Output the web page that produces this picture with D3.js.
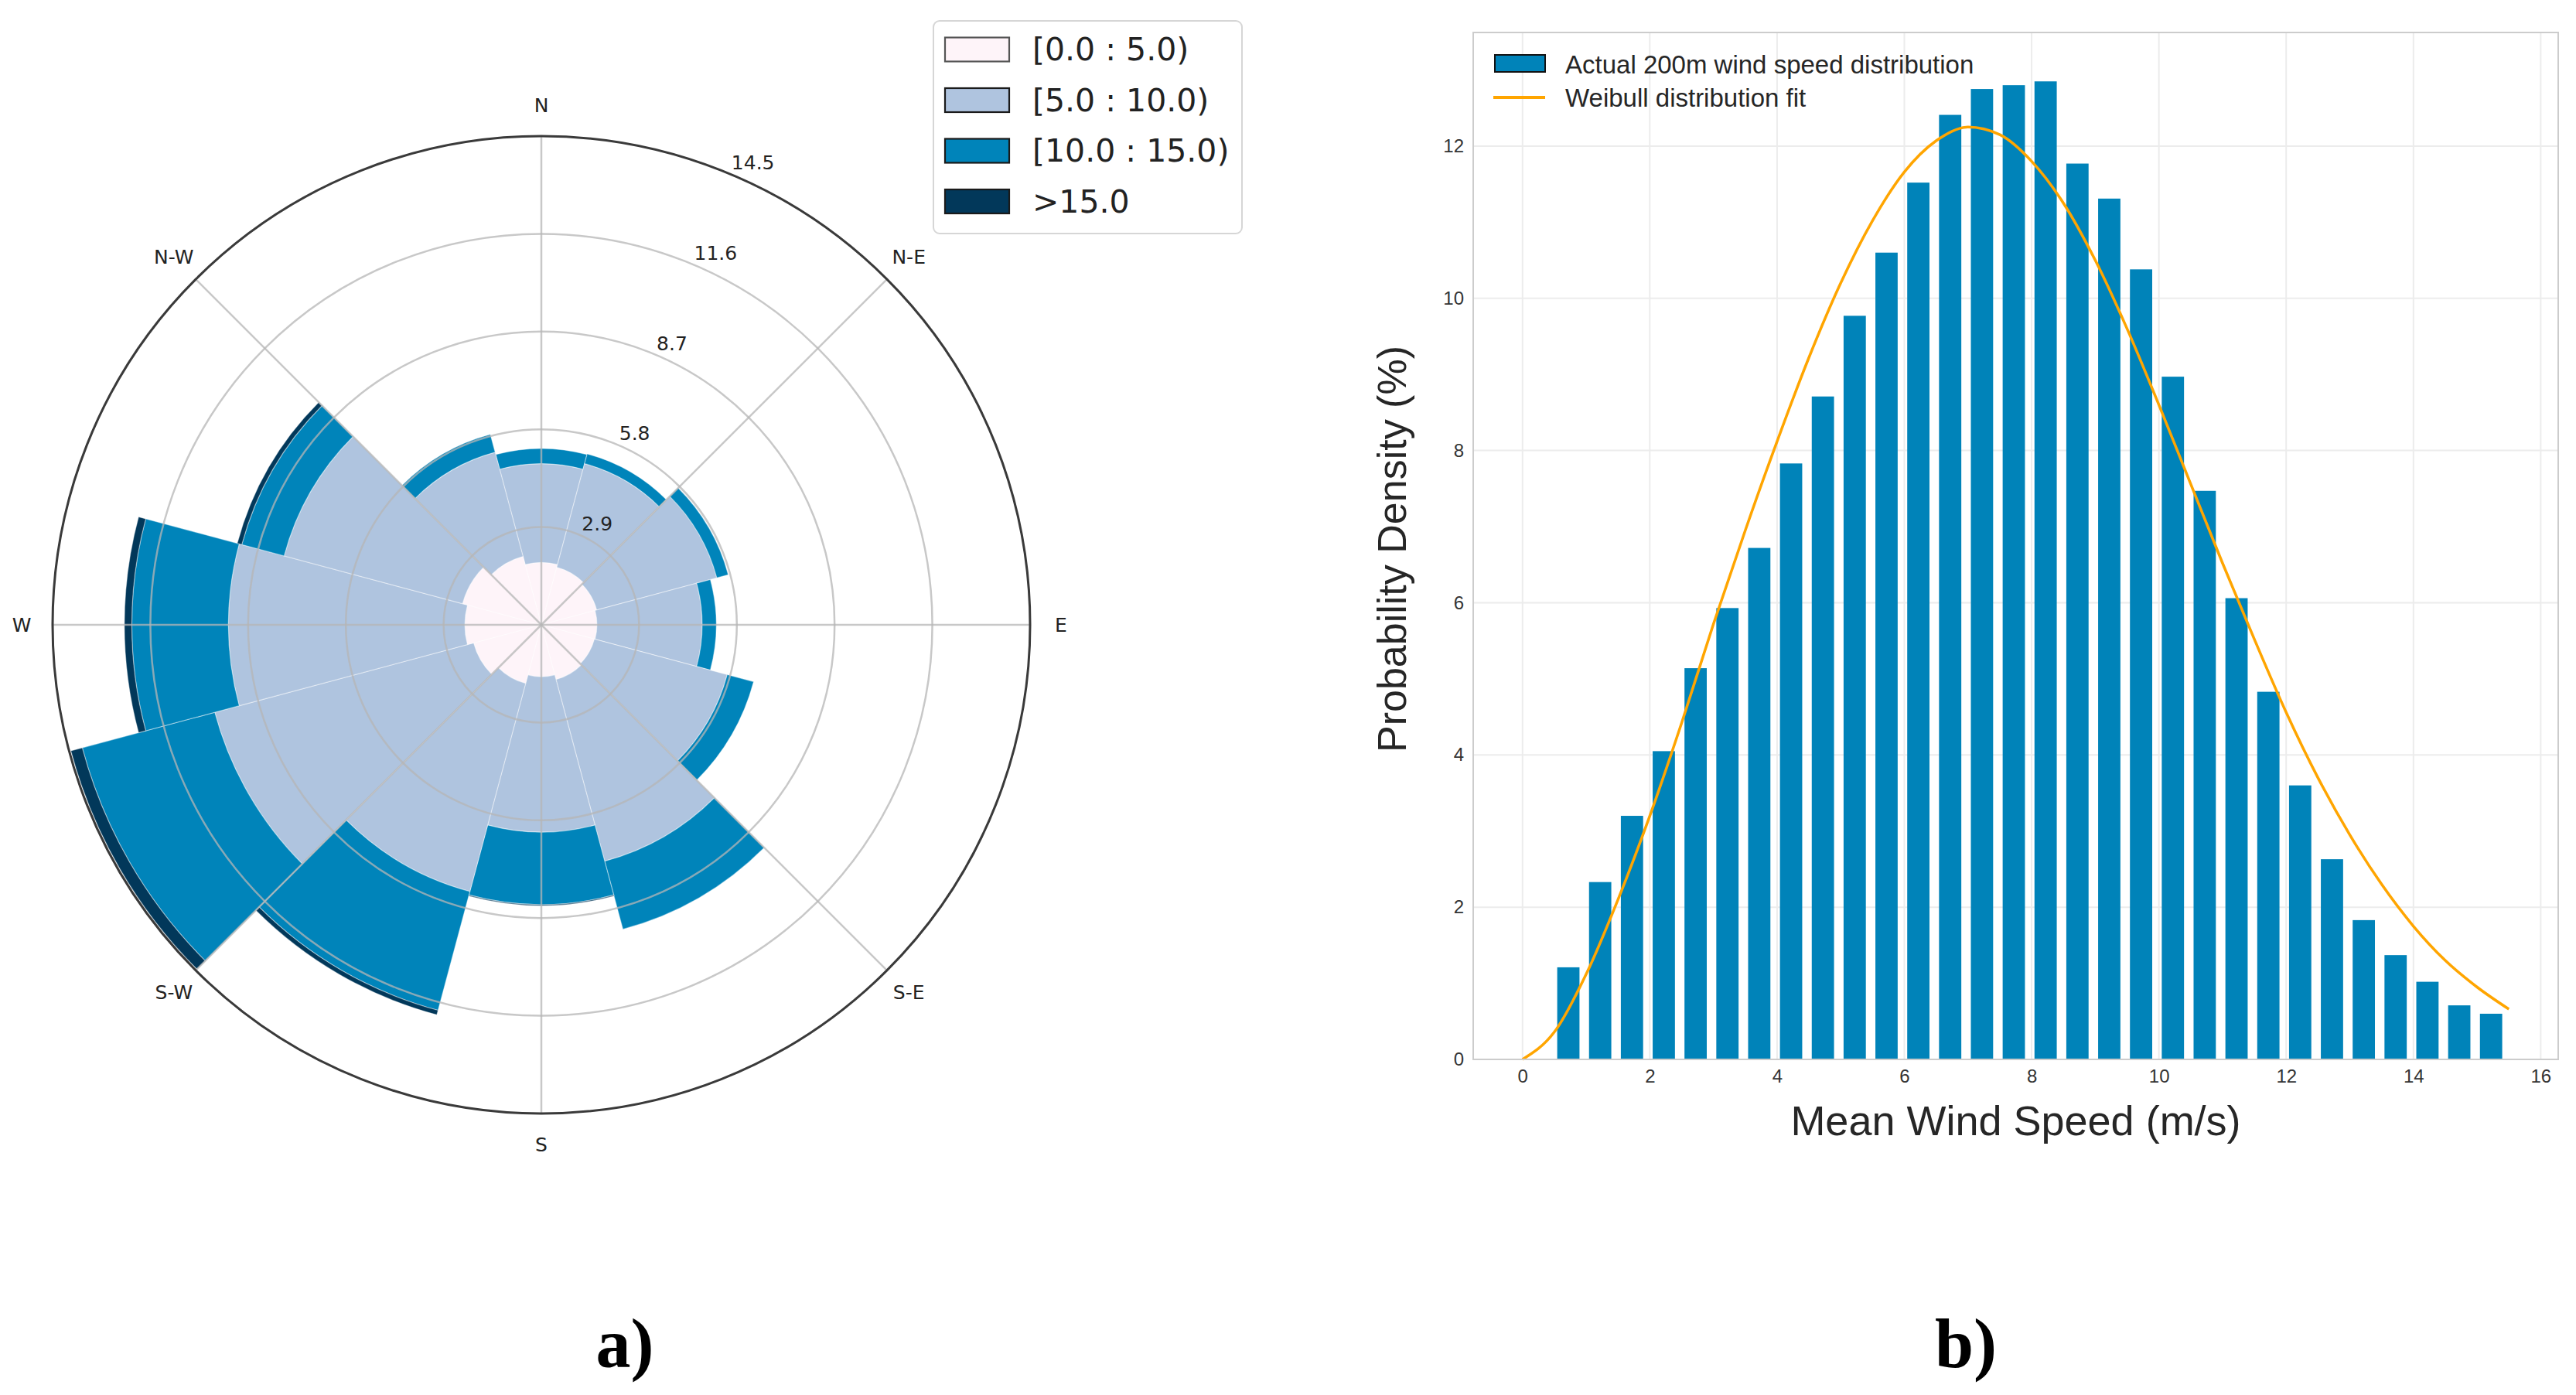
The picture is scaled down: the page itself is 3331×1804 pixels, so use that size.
<!DOCTYPE html>
<html>
<head>
<meta charset="utf-8">
<script src="https://cdn.jsdelivr.net/npm/d3@7"></script>
<style>
  html, body { margin: 0; padding: 0; background: #ffffff; }
  svg { display: block; }
</style>
</head>
<body>
<svg id="chart" width="3331" height="1804"></svg>
<script>
// ---------------- DATA ----------------
// (a) wind rose: 12 direction sectors, frequency (%) per speed bin
const directions   = ["N", "NNE", "ENE", "E", "ESE", "SSE", "S", "SSW", "WSW", "W", "WNW", "NNW"];
const dirAngles    = [0, 30, 60, 90, 120, 150, 180, 210, 240, 270, 300, 330];
const speedBins    = ["[0.0 : 5.0)", "[5.0 : 10.0)", "[10.0 : 15.0)", ">15.0"];
const bin0to5      = [1.85, 1.77, 1.70, 1.65, 1.63, 1.68, 1.54, 1.80, 2.08, 2.27, 2.42, 2.10];
const bin5to10     = [2.93, 3.18, 3.69, 3.12, 4.08, 5.58, 4.61, 6.39, 7.95, 7.01, 5.48, 3.20];
const bin10to15    = [0.45, 0.30, 0.35, 0.42, 0.81, 2.09, 2.15, 3.65, 4.07, 2.87, 1.30, 0.55];
const binOver15    = [0.00, 0.00, 0.00, 0.00, 0.00, 0.00, 0.03, 0.14, 0.35, 0.22, 0.14, 0.00];
const radialTicks  = [2.9, 5.8, 8.7, 11.6, 14.5];
const compassLabels = ["N", "N-E", "E", "S-E", "S", "S-W", "W", "N-W"];
const compassAngles = [0, 45, 90, 135, 180, 225, 270, 315];

// (b) wind speed histogram + Weibull fit
const barSpeeds  = [0.72, 1.22, 1.72, 2.22, 2.72, 3.22, 3.72, 4.22, 4.72, 5.22,
                    5.72, 6.22, 6.72, 7.22, 7.72, 8.22, 8.72, 9.22, 9.72, 10.22,
                    10.72, 11.22, 11.72, 12.22, 12.72, 13.22, 13.72, 14.22, 14.72, 15.22];
const barDensity = [1.21, 2.33, 3.20, 4.05, 5.14, 5.93, 6.72, 7.83, 8.71, 9.77,
                    10.60, 11.52, 12.41, 12.75, 12.80, 12.85, 11.77, 11.31, 10.38, 8.97,
                    7.47, 6.06, 4.83, 3.60, 2.63, 1.83, 1.37, 1.02, 0.71, 0.60];
const fitSpeeds  = [0, 0.5, 1, 1.5, 2, 2.5, 3, 3.5, 4, 4.5, 5, 5.5, 6, 6.5, 7, 7.5,
                    8, 8.5, 9, 9.5, 10, 10.5, 11, 11.5, 12, 12.5, 13, 13.5, 14, 14.5, 15, 15.5];
const fitDensity = [0, 0.36, 1.12, 2.10, 3.20, 4.42, 5.72, 6.95, 8.12, 9.22, 10.20, 11.02,
                    11.66, 12.07, 12.25, 12.15, 11.80, 11.25, 10.50, 9.60, 8.60, 7.56,
                    6.52, 5.52, 4.56, 3.70, 2.95, 2.30, 1.75, 1.30, 0.95, 0.66];
const xTickVals = [0, 2, 4, 6, 8, 10, 12, 14, 16];
const yTickVals = [0, 2, 4, 6, 8, 10, 12];
const legendB   = ["Actual 200m wind speed distribution", "Weibull distribution fit"];
const panelLabels = ["a)", "b)"];

// ---------------- STYLE ----------------
const binColors = ["#fef4f9", "#afc4df", "#0084ba", "#02385a"];
const barColor = "#0083b9";
const fitColor = "#ffa500";
const roseFont = "'DejaVu Sans', sans-serif";
const barFont = "'Liberation Sans', Arial, sans-serif";

const svg = d3.select("#chart");
svg.append("rect").attr("width", 3331).attr("height", 1804).attr("fill", "#ffffff");

// ================= (a) WIND ROSE =================
const cx = 700, cy = 808, R = 632;
const rScale = d3.scaleLinear().domain([0, 14.5]).range([0, R]);
const rose = svg.append("g").attr("transform", `translate(${cx},${cy})`);
const toRad = d => d * Math.PI / 180;

const binsData = [bin0to5, bin5to10, bin10to15, binOver15];
const sectors = [];
directions.forEach((d, i) => {
  let cum = 0;
  binsData.forEach((arr, b) => {
    const v = arr[i];
    if (v > 0) sectors.push({ dir: d, bin: b, a: dirAngles[i], r0: cum, r1: cum + v });
    cum += v;
  });
});
const arc = d3.arc()
  .innerRadius(s => rScale(s.r0))
  .outerRadius(s => rScale(s.r1))
  .startAngle(s => toRad(s.a - 15))
  .endAngle(s => toRad(s.a + 15));

rose.append("g").selectAll("path").data(sectors).join("path")
  .attr("d", arc)
  .attr("fill", s => binColors[s.bin])
  .attr("stroke", "#ffffff")
  .attr("stroke-opacity", 0.4)
  .attr("stroke-width", 1.2);

// grid on top
const grid = rose.append("g");
grid.selectAll("circle.g").data(radialTicks.slice(0, -1)).join("circle")
  .attr("r", d => rScale(d))
  .attr("fill", "none")
  .attr("stroke", "#b5b5b5")
  .attr("stroke-opacity", 0.75)
  .attr("stroke-width", 2.5);
grid.selectAll("line").data(compassAngles).join("line")
  .attr("x1", 0).attr("y1", 0)
  .attr("x2", a => R * Math.sin(toRad(a)))
  .attr("y2", a => -R * Math.cos(toRad(a)))
  .attr("stroke", "#b5b5b5")
  .attr("stroke-opacity", 0.75)
  .attr("stroke-width", 2.5);
rose.append("circle").attr("r", R).attr("fill", "none")
  .attr("stroke", "#3a3a3a").attr("stroke-width", 3);

// compass labels
rose.selectAll("text.cl").data(compassLabels).join("text")
  .attr("x", (d, i) => (R + 40) * Math.sin(toRad(compassAngles[i])))
  .attr("y", (d, i) => -(R + 40) * Math.cos(toRad(compassAngles[i])))
  .attr("text-anchor", "middle")
  .attr("dominant-baseline", "central")
  .attr("font-family", roseFont)
  .attr("font-size", 25)
  .attr("fill", "#222")
  .text(d => d);

// radial labels at 22.5 deg
rose.selectAll("text.rl").data(radialTicks).join("text")
  .attr("x", d => rScale(d) * Math.sin(toRad(22.5)) + 4)
  .attr("y", d => -rScale(d) * Math.cos(toRad(22.5)) - 5)
  .attr("text-anchor", "start")
  .attr("font-family", roseFont)
  .attr("font-size", 25)
  .attr("fill", "#222")
  .text(d => d.toFixed(1));

// legend (a)
const legA = svg.append("g");
legA.append("rect").attr("x", 1207).attr("y", 27).attr("width", 399).attr("height", 275)
  .attr("rx", 8).attr("fill", "#ffffff").attr("stroke", "#d6d6d6").attr("stroke-width", 2);
speedBins.forEach((lab, i) => {
  const yc = 64 + i * 65.5;
  legA.append("rect").attr("x", 1222).attr("y", yc - 15.5).attr("width", 83).attr("height", 31)
    .attr("fill", binColors[i]).attr("stroke", i === 0 ? "#555" : "#1a1a1a").attr("stroke-width", 2.2);
  legA.append("text").attr("x", 1335).attr("y", yc)
    .attr("dominant-baseline", "central")
    .attr("font-family", roseFont).attr("font-size", 41).attr("fill", "#222")
    .text(lab);
});

// ================= (b) HISTOGRAM =================
const L = 1905, Rt = 3308, T = 42, B = 1370;
const x = d3.scaleLinear().domain([-0.775, 16.275]).range([L, Rt]);
const y = d3.scaleLinear().domain([0, 13.4925]).range([B, T]);
const pb = svg.append("g");

// grid
pb.append("g").selectAll("line").data(xTickVals).join("line")
  .attr("x1", d => x(d)).attr("x2", d => x(d)).attr("y1", T).attr("y2", B)
  .attr("stroke", "#ececec").attr("stroke-width", 2);
pb.append("g").selectAll("line").data(yTickVals).join("line")
  .attr("x1", L).attr("x2", Rt).attr("y1", d => y(d)).attr("y2", d => y(d))
  .attr("stroke", "#ececec").attr("stroke-width", 2);

// bars
const bw = x(0.35) - x(0);
pb.append("g").selectAll("rect").data(barSpeeds).join("rect")
  .attr("x", (d) => x(d) - bw / 2)
  .attr("width", bw)
  .attr("y", (d, i) => y(barDensity[i]))
  .attr("height", (d, i) => y(0) - y(barDensity[i]))
  .attr("fill", barColor);

// fit line
const line = d3.line()
  .x(d => x(d[0])).y(d => y(d[1]))
  .curve(d3.curveMonotoneX);
pb.append("path")
  .datum(fitSpeeds.map((s, i) => [s, fitDensity[i]]))
  .attr("d", line)
  .attr("fill", "none").attr("stroke", fitColor).attr("stroke-width", 3.5);

// frame
pb.append("rect").attr("x", L).attr("y", T).attr("width", Rt - L).attr("height", B - T)
  .attr("fill", "none").attr("stroke", "#cccccc").attr("stroke-width", 2);

// axes
const xAxis = pb.append("g").attr("transform", `translate(0,${B})`)
  .call(d3.axisBottom(x).tickValues(xTickVals).tickSize(0).tickPadding(13).tickFormat(d3.format("d")));
const yAxis = pb.append("g").attr("transform", `translate(${L},0)`)
  .call(d3.axisLeft(y).tickValues(yTickVals).tickSize(0).tickPadding(12).tickFormat(d3.format("d")));
[xAxis, yAxis].forEach(g => {
  g.select(".domain").remove();
  g.selectAll("text").attr("font-family", barFont).attr("font-size", 24).attr("fill", "#333");
});

// axis labels
pb.append("text").attr("x", (L + Rt) / 2).attr("y", 1468)
  .attr("text-anchor", "middle").attr("font-family", barFont).attr("font-size", 54).attr("fill", "#262626")
  .text("Mean Wind Speed (m/s)");
pb.append("text").attr("transform", `translate(1818,${(T + B) / 2 + 4}) rotate(-90)`)
  .attr("text-anchor", "middle").attr("font-family", barFont).attr("font-size", 52).attr("fill", "#262626")
  .text("Probability Density (%)");

// legend (b)
const legB = pb.append("g");
legB.append("rect").attr("x", 1933).attr("y", 71).attr("width", 65).attr("height", 22)
  .attr("fill", barColor).attr("stroke", "#111").attr("stroke-width", 2);
legB.append("line").attr("x1", 1931).attr("x2", 1998).attr("y1", 126).attr("y2", 126)
  .attr("stroke", fitColor).attr("stroke-width", 4);
legendB.forEach((t, i) => {
  legB.append("text").attr("x", 2024).attr("y", 83 + i * 43)
    .attr("dominant-baseline", "central")
    .attr("font-family", barFont).attr("font-size", 33).attr("fill", "#262626")
    .text(t);
});

// panel labels
svg.selectAll("text.panel").data(panelLabels).join("text")
  .attr("x", (d, i) => i === 0 ? 808 : 2542)
  .attr("y", 1768)
  .attr("text-anchor", "middle")
  .attr("font-family", "'Liberation Serif', 'Times New Roman', serif")
  .attr("font-weight", "bold")
  .attr("font-size", 90)
  .attr("fill", "#000")
  .text(d => d);
</script>
</body>
</html>
